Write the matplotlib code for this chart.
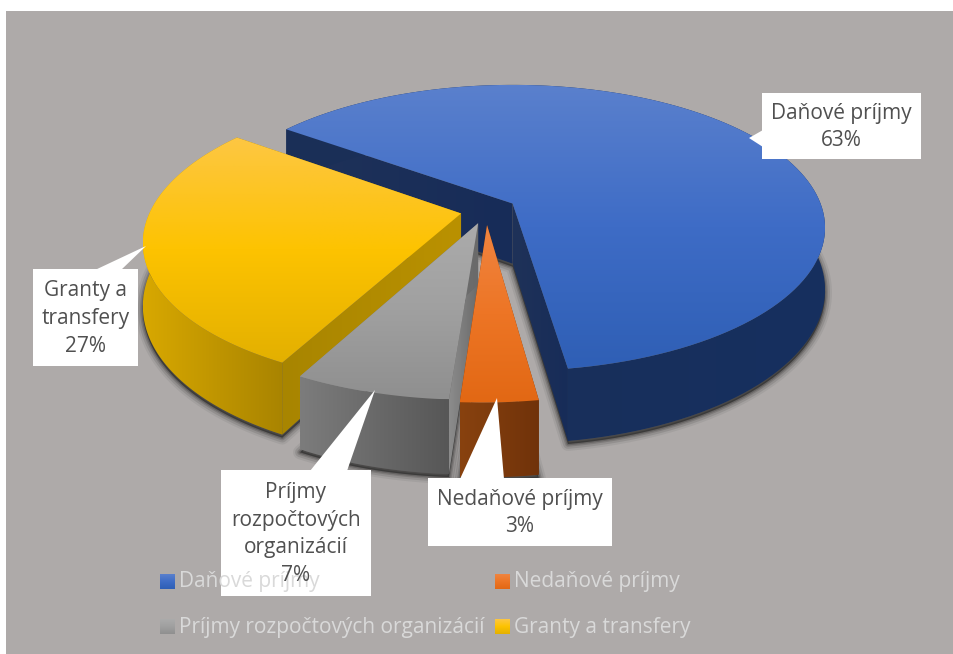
#!/usr/bin/env python3
import numpy as np
import matplotlib

matplotlib.use("Agg")
import matplotlib.pyplot as plt
from matplotlib.colors import LinearSegmentedColormap
from matplotlib.patches import Polygon, Rectangle

plt.rcParams["font.family"] = ["Open Sans", "DejaVu Sans"]

CATEGORIES = ["Daňové príjmy", "Nedaňové príjmy", "Príjmy rozpočtových organizácií", "Granty a transfery"]
# shares, the labels show them rounded
VALUES = [62.6, 3.3, 6.7, 27.4]

BG = "#aeaaa9"
TEXT = "#505050"
LEGEND_TEXT = "#d9d9d9"
FONT = 15.0

# top gradient, side gradient, cut face gradient
TOP = [
    ["#5a80cd", "#3e6cc6", "#2f5fb5"],
    ["#f08440", "#ed7525", "#e26814"],
    ["#ababab", "#a0a0a0", "#8f8f8f"],
    ["#fdc743", "#fdc300", "#e3b000"],
]
SIDE = [
    ["#1b2f57", "#16305f"],
    ["#88420f", "#70320a"],
    ["#7c7c7c", "#575757"],
    ["#d8a800", "#a98400"],
]
CUT = [
    ["#1f3259", "#172c58"],
    ["#88420f", "#70320a"],
    ["#8c8c8c", "#6a6a6a"],
    ["#a88500", "#ba9100"],
]

# perspective of the pie plane, in pixels
APEX_X, APEX_Y = 514, 201
RADIUS, RADIUS_Y = 307, 138
PERSP = 0.17
DEPTH = 60
START = -54
CENTER = (-0.09, -0.07)
EXPLODE = [0.1, 0.1, 0.09, 0.082]


def project(u, v):
    s = 1 / (1 + PERSP * v)
    return APEX_X + RADIUS * u * s, APEX_Y - RADIUS_Y * v * s, s


def gradient_fill(ax, pts, colors, zorder, horizontal=False):
    patch = Polygon(pts, closed=True, facecolor="none", edgecolor="none", zorder=zorder)
    ax.add_patch(patch)
    cmap = LinearSegmentedColormap.from_list("g", colors)
    ramp = np.linspace(0, 1, 128)
    ramp = ramp[None, :] if horizontal else ramp[:, None]
    x0, x1 = pts[:, 0].min(), pts[:, 0].max()
    y0, y1 = pts[:, 1].min(), pts[:, 1].max()
    im = ax.imshow(ramp, cmap=cmap, extent=(x0, x1, y1, y0), aspect="auto",
                   zorder=zorder, interpolation="bilinear", vmin=0, vmax=1)
    im.set_clip_path(patch)


def draw_wedge(ax, i, a0, a1, z):
    mid = np.radians((a0 + a1) / 2)
    cu = CENTER[0] + EXPLODE[i] * np.sin(mid)
    cv = CENTER[1] + EXPLODE[i] * np.cos(mid)
    ang = np.radians(np.linspace(a0, a1, 120))
    ax_, ay_, s_a = project(cu, cv)
    x, y, s = project(cu + np.sin(ang), cv + np.cos(ang))
    top = np.column_stack([np.r_[ax_, x], np.r_[ay_, y]])
    arc_top = np.column_stack([x, y])
    arc_low = np.column_stack([x, y + DEPTH * s])
    apex_top = np.array([ax_, ay_])
    apex_low = np.array([ax_, ay_ + DEPTH * s_a])

    outline = np.vstack([arc_low, arc_top[::-1]])
    shadow = np.vstack([arc_low, apex_low])
    for lw, alpha in [(10, 0.06), (7, 0.1), (4, 0.14), (2, 0.18)]:
        ax.add_patch(Polygon(shadow + [0, 3], closed=True, facecolor="black", edgecolor="black",
                             linewidth=lw, alpha=alpha, joinstyle="round", zorder=z))

    face_a = np.array([apex_top, arc_top[0], arc_low[0], apex_low])
    face_b = np.array([apex_top, arc_top[-1], arc_low[-1], apex_low])
    gradient_fill(ax, face_a, CUT[i], z + 0.1, horizontal=True)
    gradient_fill(ax, face_b, CUT[i], z + 0.1, horizontal=True)
    gradient_fill(ax, outline, SIDE[i], z + 0.2, horizontal=True)
    gradient_fill(ax, top, TOP[i], z + 0.3)


def callout(ax, box, pointer, lines, z=8):
    x0, y0, x1, y1 = box
    ax.add_patch(Rectangle((x0, y0), x1 - x0, y1 - y0, facecolor="white", edgecolor="none", zorder=z))
    ax.add_patch(Polygon(pointer, closed=True, facecolor="white", edgecolor="none", zorder=z))
    ax.text((x0 + x1) / 2, (y0 + y1) / 2 + 1, lines, ha="center", va="center", color=TEXT,
            fontsize=FONT, linespacing=1.42, zorder=z + 2)


def main():
    fig = plt.figure(figsize=(9.54, 6.54), dpi=100, facecolor="white")
    ax = fig.add_axes([0, 0, 1, 1])
    ax.set_xlim(0, 954)
    ax.set_ylim(654, 0)
    ax.axis("off")
    ax.add_patch(Rectangle((6, 11), 948, 643, facecolor=BG, edgecolor="none", zorder=0))

    spans = np.cumsum([0] + VALUES) / sum(VALUES) * 360 + START
    for z, i in [(1, 0), (2, 3), (3, 2), (4, 1)]:
        draw_wedge(ax, i, spans[i], spans[i + 1], z)

    pct = [f"{round(v / sum(VALUES) * 100)}%" for v in VALUES]
    callout(ax, (762, 93, 921, 159), [(763, 130), (749, 138), (763, 147)], f"Daňové príjmy\n{pct[0]}")
    callout(ax, (428, 478, 612, 546), [(460, 479), (497, 398), (504, 479)], f"Nedaňové príjmy\n{pct[1]}")
    callout(ax, (221, 470, 371, 596), [(310, 471), (375, 390), (347, 471)], f"Príjmy\nrozpočtových\norganizácií\n{pct[2]}")
    callout(ax, (33, 269, 138, 366), [(95, 270), (146, 246), (121, 270)], f"Granty a\ntransfery\n{pct[3]}")

    legend_pos = [(160, 574), (495, 574), (160, 619), (495, 619)]
    for i, (lx, ly) in enumerate(legend_pos):
        sq = np.array([[lx, ly], [lx + 15, ly], [lx + 15, ly + 15], [lx, ly + 15]], dtype=float)
        gradient_fill(ax, sq, TOP[i], 9)
        ax.text(lx + 19, ly + 8, CATEGORIES[i], ha="left", va="center", color=LEGEND_TEXT,
                fontsize=FONT, zorder=9)

    ax.set_xlim(0, 954)
    ax.set_ylim(654, 0)
    fig.savefig("out.png", dpi=100, facecolor="white")


if __name__ == "__main__":
    main()
